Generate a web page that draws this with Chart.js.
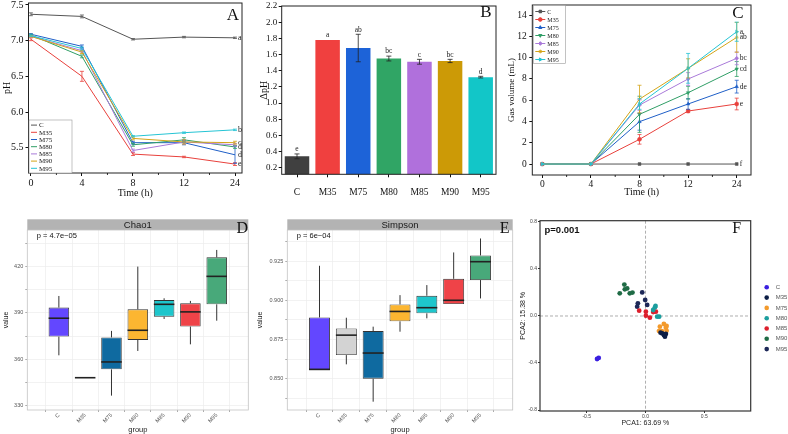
<!DOCTYPE html>
<html>
<head>
<meta charset="utf-8">
<script src="https://cdn.jsdelivr.net/npm/chart.js"></script>
<style>
  body { margin: 0; background: #fff; }
  #wrap { position: relative; width: 788px; height: 434px; overflow: hidden; background: #fff; }
  #wrap canvas { position: absolute; }
</style>
</head>
<body>
<div id="wrap">
  <canvas id="chartA" width="258" height="200" style="left:0px;top:0px"></canvas>
  <canvas id="chartB" width="258" height="200" style="left:258px;top:0px"></canvas>
  <canvas id="chartC" width="283" height="200" style="left:505px;top:0px"></canvas>
  <canvas id="chartD" width="262" height="224" style="left:0px;top:210px"></canvas>
  <canvas id="chartE" width="276" height="224" style="left:254px;top:210px"></canvas>
  <canvas id="chartF" width="273" height="224" style="left:515px;top:210px"></canvas>
</div>
<script>
// ---- data ----
const timeLabels = ['0', '4', '8', '12', '24'];
const groups = ['C', 'M35', 'M75', 'M80', 'M85', 'M90', 'M95'];
const lineColors = ['#555555', '#e8413c', '#1f5fc7', '#2f9e66', '#a97ad9', '#d4a418', '#25c4d4'];

// A: pH over time
const phC   = [7.37, 7.34, 7.02, 7.05, 7.04];
const phM35 = [7.02, 6.50, 5.41, 5.37, 5.27];
const phM75 = [7.09, 6.92, 5.57, 5.57, 5.40];
const phM80 = [7.08, 6.78, 5.54, 5.61, 5.51];
const phM85 = [7.06, 6.86, 5.46, 5.58, 5.54];
const phM90 = [7.06, 6.84, 5.63, 5.58, 5.57];
const phM95 = [7.07, 6.89, 5.66, 5.71, 5.75];
const phErrC   = [0.02, 0.02, 0.01, 0.01, 0.01];
const phErrM35 = [0.02, 0.07, 0.02, 0.01, 0.02];
const phErrM75 = [0.01, 0.02, 0.02, 0.03, 0.12];
const phErrM80 = [0.01, 0.02, 0.02, 0.03, 0.02];
const phErrM85 = [0.01, 0.02, 0.02, 0.03, 0.02];
const phErrM90 = [0.01, 0.02, 0.02, 0.03, 0.02];
const phErrM95 = [0.01, 0.02, 0.01, 0.01, 0.01];
const phLetters = ['a', 'e', 'd', 'd', '', 'c', 'b'];
const phTicks = [5.5, 6.0, 6.5, 7.0, 7.5];

// B: delta pH
const dphValues = [0.34, 1.78, 1.68, 1.55, 1.51, 1.52, 1.32];
const dphErr    = [0.03, 0.0, 0.17, 0.03, 0.03, 0.02, 0.01];
const dphLetters = ['e', 'a', 'ab', 'bc', 'c', 'bc', 'd'];
const barColors = ['#404040', '#f0403f', '#1d63d8', '#30a565', '#b070dc', '#cc9a06', '#12c6c8'];
const dphTicks = [0.2, 0.4, 0.6, 0.8, 1.0, 1.2, 1.4, 1.6, 1.8, 2.0, 2.2];

// C: gas volume
const gasC   = [0, 0, 0, 0, 0];
const gasM35 = [0, 0, 2.32, 4.98, 5.64];
const gasM75 = [0, 0, 3.98, 5.64, 7.27];
const gasM80 = [0, 0, 4.67, 6.70, 8.93];
const gasM85 = [0, 0, 5.54, 7.99, 9.93];
const gasM90 = [0, 0, 6.10, 8.99, 11.90];
const gasM95 = [0, 0, 5.64, 8.99, 12.43];
const gasErrC   = [0, 0, 0, 0, 0];
const gasErrM35 = [0, 0, 0.45, 0.15, 0.55];
const gasErrM75 = [0, 0, 0.8, 0.5, 0.6];
const gasErrM80 = [0, 0, 1.7, 0.6, 0.7];
const gasErrM85 = [0, 0, 0.5, 0.6, 0.6];
const gasErrM90 = [0, 0, 1.3, 0.9, 1.4];
const gasErrM95 = [0, 0, 0.5, 1.4, 0.9];
const gasLetters = ['f', 'e', 'de', 'cd', 'bc', 'ab', 'a'];
const gasTicks = [0, 2, 4, 6, 8, 10, 12, 14];
const gasStyles = ['rect', 'circle', 'triangle', 'triangle', 'rectRot', 'star', 'triangle'];
const gasRotations = [0, 0, 0, 180, 0, 0, 90];

// D: Chao1 boxplot
const boxColors = ['#6347ff', '#d3d3d3', '#0f6aa0', '#fcb631', '#1ec6cc', '#ef4348', '#48a97a'];
const chao1Min = [362.6, 348.1, 336.5, 365.4, 386.1, 369.7, 385.0];
const chao1Q1  = [374.7, 348.1, 353.5, 372.5, 387.6, 381.2, 395.6];
const chao1Med = [386.6, 348.1, 358.3, 378.8, 395.6, 390.7, 413.7];
const chao1Q3  = [393.5, 348.1, 374.2, 392.4, 398.4, 396.3, 426.0];
const chao1Max = [401.0, 348.1, 378.4, 420.0, 399.5, 397.8, 430.8];
const chao1Ticks = [330, 360, 390, 420];

// E: Simpson boxplot
const simpMin = [0.8555, 0.8592, 0.8354, 0.8800, 0.8885, 0.8976, 0.9012];
const simpQ1  = [0.8555, 0.8651, 0.8500, 0.8866, 0.8917, 0.8976, 0.9129];
const simpMed = [0.8560, 0.8778, 0.8664, 0.8929, 0.8953, 0.9000, 0.9246];
const simpQ3  = [0.8891, 0.8821, 0.8804, 0.8974, 0.9029, 0.9137, 0.9286];
const simpMax = [0.9220, 0.8889, 0.8832, 0.9033, 0.9097, 0.9305, 0.9394];
const simpTicks = [0.850, 0.875, 0.900, 0.925];

// F: PCA scores
const pcaColors = ['#3a1fe0', '#0c1d45', '#f39a2c', '#1c9e9e', '#dc1f2c', '#1f6b45', '#1d2858'];
const pcaC   = [[-0.412, -0.366], [-0.398, -0.357]];
const pcaM35 = [[0.156, -0.162], [0.142, -0.148], [0.173, -0.153], [0.128, -0.142], [0.165, -0.176]];
const pcaM75 = [[0.122, -0.091], [0.156, -0.068], [0.173, -0.099], [0.179, -0.085], [0.114, -0.128], [0.139, -0.128], [0.179, -0.125]];
const pcaM80 = [[0.080, 0.074], [0.065, 0.051], [0.099, -0.006], [0.116, -0.006], [0.085, 0.085]];
const pcaM85 = [[-0.054, 0.045], [0.003, 0.037], [0.037, -0.014], [0.065, 0.034], [0.088, 0.037], [0.003, 0.003]];
const pcaM90 = [[-0.180, 0.267], [-0.219, 0.193], [-0.176, 0.227], [-0.156, 0.235], [-0.134, 0.193], [-0.111, 0.199]];
const pcaM95 = [[-0.028, 0.201], [-0.003, 0.136], [-0.065, 0.108], [-0.071, 0.079], [0.014, 0.094]];
const pcaXTicks = [-0.5, 0.0, 0.5];
const pcaYTicks = [-0.8, -0.4, 0.0, 0.4, 0.8];

const serif = "'Liberation Serif', 'Times New Roman', serif";
const sans = "'Liberation Sans', Arial, sans-serif";

// ---- helpers ----
function fixV(w) {
  return s => { s.width = w; s.paddingTop = 0; s.paddingBottom = 0; };
}
function fixH(h) {
  return s => { s.height = h; s.paddingLeft = 0; s.paddingRight = 0; };
}
function setTicks(values) {
  return s => { s.ticks = values.map(v => ({ value: v })); };
}
function withMinors(values) {
  const out = [];
  for (let i = 0; i < values.length; i++) {
    if (i > 0) out.push((values[i - 1] + values[i]) / 2);
    out.push(values[i]);
  }
  const step = values[1] - values[0];
  out.unshift(values[0] - step / 2);
  out.push(values[values.length - 1] + step / 2);
  return out;
}
function xy(arr) { return arr.map((v, i) => ({ x: i, y: v })); }
function valOf(d) { return typeof d === 'object' ? d.y : d; }

function mark(ctx, style, rot, r, x, y, color) {
  ctx.save();
  ctx.fillStyle = color; ctx.strokeStyle = color;
  if (Chart.helpers && Chart.helpers.drawPoint) {
    Chart.helpers.drawPoint(ctx, { pointStyle: style, radius: r, rotation: rot, borderWidth: 1 }, x, y);
    ctx.fill();
  } else {
    ctx.beginPath(); ctx.arc(x, y, r, 0, Math.PI * 2); ctx.fill();
  }
  ctx.restore();
}

const extras = {
  id: 'extras',
  beforeDraw(chart, args, o) {
    const ctx = chart.ctx, ca = chart.chartArea;
    if (o.strip) {
      ctx.save();
      ctx.fillStyle = '#b3b3b3';
      ctx.fillRect(ca.left, ca.top - o.strip.height, ca.right - ca.left, o.strip.height);
      ctx.fillStyle = '#1a1a1a';
      ctx.font = o.strip.font;
      ctx.textAlign = 'center'; ctx.textBaseline = 'middle';
      ctx.fillText(o.strip.text, (ca.left + ca.right) / 2, ca.top - o.strip.height / 2 + 0.5);
      ctx.restore();
    }
  },
  beforeDatasetsDraw(chart, args, o) {
    const ctx = chart.ctx, ca = chart.chartArea;
    if (o.refLines) {
      const xs = chart.scales.x, ys = chart.scales.y;
      ctx.save();
      ctx.strokeStyle = '#999'; ctx.lineWidth = 0.8; ctx.setLineDash([3, 2]);
      const px = xs.getPixelForValue(0), py = ys.getPixelForValue(0);
      ctx.beginPath();
      ctx.moveTo(px, ca.top); ctx.lineTo(px, ca.bottom);
      ctx.moveTo(ca.left, py); ctx.lineTo(ca.right, py);
      ctx.stroke();
      ctx.restore();
    }
    chart.data.datasets.forEach((ds, i) => {
      if (!ds.whiskerLow) return;
      const meta = chart.getDatasetMeta(i), ys = chart.scales.y;
      ctx.save();
      ctx.strokeStyle = '#333'; ctx.lineWidth = 1;
      meta.data.forEach((el, j) => {
        const [q1, q3] = ds.data[j].y;
        ctx.beginPath();
        ctx.moveTo(el.x, ys.getPixelForValue(ds.whiskerHigh[j]));
        ctx.lineTo(el.x, ys.getPixelForValue(q3));
        ctx.moveTo(el.x, ys.getPixelForValue(q1));
        ctx.lineTo(el.x, ys.getPixelForValue(ds.whiskerLow[j]));
        ctx.stroke();
      });
      ctx.restore();
    });
  },
  afterDatasetsDraw(chart, args, o) {
    const ctx = chart.ctx;
    chart.data.datasets.forEach((ds, i) => {
      const meta = chart.getDatasetMeta(i);
      const ys = chart.scales[meta.yAxisID];
      if (ds.medians) {
        ctx.save();
        ctx.strokeStyle = '#222'; ctx.lineWidth = 1.6;
        meta.data.forEach((el, j) => {
          const y = ys.getPixelForValue(ds.medians[j]);
          ctx.beginPath();
          ctx.moveTo(el.x - el.width / 2, y); ctx.lineTo(el.x + el.width / 2, y);
          ctx.stroke();
        });
        ctx.restore();
      }
      if (ds.errors) {
        ctx.save();
        ctx.strokeStyle = ds.errorColor || ds.borderColor;
        ctx.lineWidth = 0.8;
        const cap = o.cap || 2.5;
        meta.data.forEach((el, j) => {
          const e = ds.errors[j];
          if (!e) return;
          const v = valOf(ds.data[j]);
          const t = ys.getPixelForValue(v + e), b = ys.getPixelForValue(v - e);
          ctx.beginPath();
          ctx.moveTo(el.x, t); ctx.lineTo(el.x, b);
          ctx.moveTo(el.x - cap, t); ctx.lineTo(el.x + cap, t);
          ctx.moveTo(el.x - cap, b); ctx.lineTo(el.x + cap, b);
          ctx.stroke();
        });
        ctx.restore();
      }
    });
  },
  afterDraw(chart, args, o) {
    const ctx = chart.ctx, ca = chart.chartArea;
    // letters
    chart.data.datasets.forEach((ds, i) => {
      const meta = chart.getDatasetMeta(i);
      const ys = chart.scales[meta.yAxisID];
      ctx.save();
      ctx.fillStyle = '#222';
      ctx.font = o.letterFont || ('8px ' + serif);
      if (ds.endLetter) {
        const el = meta.data[meta.data.length - 1];
        ctx.textAlign = 'left'; ctx.textBaseline = 'middle';
        ctx.fillText(ds.endLetter, el.x + 3, el.y);
      }
      if (ds.barLetters) {
        ctx.textAlign = 'center'; ctx.textBaseline = 'bottom';
        meta.data.forEach((el, j) => {
          const top = ys.getPixelForValue(valOf(ds.data[j]) + (ds.errors ? ds.errors[j] : 0));
          ctx.fillText(ds.barLetters[j], el.x, top - 1);
        });
      }
      ctx.restore();
    });
    // frame
    if (o.frame) {
      ctx.save();
      ctx.strokeStyle = o.frame.color; ctx.lineWidth = o.frame.width;
      ctx.strokeRect(ca.left, ca.top, ca.right - ca.left, ca.bottom - ca.top);
      ctx.restore();
    }
    // minor ticks on x
    if (o.minorX) {
      const xs = chart.scales.x;
      ctx.save();
      ctx.strokeStyle = '#000'; ctx.lineWidth = 0.8;
      o.minorX.forEach(v => {
        const x = xs.getPixelForValue(v);
        ctx.beginPath(); ctx.moveTo(x, ca.bottom); ctx.lineTo(x, ca.bottom + 2); ctx.stroke();
      });
      ctx.restore();
    }
    // legends
    const lg = o.legend;
    if (lg) {
      ctx.save();
      ctx.font = lg.font;
      ctx.textBaseline = 'middle'; ctx.textAlign = 'left';
      if (lg.kind === 'box') {
        const x0 = ca.left + lg.dx;
        const y0 = lg.fromBottom ? ca.bottom - lg.h : ca.top + lg.dy;
        ctx.fillStyle = '#fff';
        ctx.fillRect(x0, y0, lg.w, lg.h);
        ctx.strokeStyle = '#999'; ctx.lineWidth = 0.6;
        ctx.strokeRect(x0, y0, lg.w, lg.h);
        chart.data.datasets.forEach((ds, i) => {
          const y = y0 + lg.pad + (i + 0.5) * lg.row;
          ctx.strokeStyle = ds.borderColor; ctx.lineWidth = 1;
          ctx.beginPath(); ctx.moveTo(x0 + 2, y); ctx.lineTo(x0 + 2 + lg.line, y); ctx.stroke();
          if (lg.markers) mark(ctx, ds.pointStyle, ds.pointRotation || 0, 1.8, x0 + 2 + lg.line / 2, y, ds.borderColor);
          ctx.fillStyle = '#222';
          ctx.fillText(ds.label, x0 + 4 + lg.line, y + 0.5);
        });
      } else {
        chart.data.datasets.forEach((ds, i) => {
          const y = ca.top + lg.dy + i * lg.row;
          ctx.fillStyle = ds.backgroundColor;
          ctx.beginPath(); ctx.arc(ca.right + lg.dx, y, 2.3, 0, Math.PI * 2); ctx.fill();
          ctx.fillStyle = '#555';
          ctx.fillText(ds.label, ca.right + lg.tx, y);
        });
      }
      ctx.restore();
    }
    // notes and panel letter
    ctx.save();
    (o.notes || []).forEach(n => {
      ctx.font = n.font; ctx.fillStyle = n.color || '#111';
      ctx.textAlign = n.align || 'left'; ctx.textBaseline = 'middle';
      const x = n.fromRight ? ca.right + n.dx : ca.left + n.dx;
      ctx.fillText(n.text, x, ca.top + n.dy);
    });
    ctx.restore();
  }
};
Chart.register(extras);

function baseOptions() {
  return {
    responsive: false, animation: false, devicePixelRatio: 1,
    plugins: { legend: { display: false }, tooltip: { enabled: false } }
  };
}

// ---- A: pH ----
const phSeries = [phC, phM35, phM75, phM80, phM85, phM90, phM95];
const phErrs = [phErrC, phErrM35, phErrM75, phErrM80, phErrM85, phErrM90, phErrM95];
new Chart(document.getElementById('chartA'), {
  type: 'line',
  data: {
    datasets: groups.map((g, i) => ({
      label: g, data: xy(phSeries[i]), errors: phErrs[i], endLetter: phLetters[i],
      borderColor: lineColors[i], borderWidth: 1, pointRadius: 0, order: 7 - i
    }))
  },
  options: Object.assign(baseOptions(), {
    layout: { padding: { top: 3, right: 16, left: 0, bottom: 0 } },
    scales: {
      x: {
        type: 'linear', min: -0.047, max: 4.137,
        afterFit: fixH(27), afterBuildTicks: setTicks([0, 1, 2, 3, 4]),
        ticks: { callback: v => timeLabels[v], font: { family: serif, size: 10 }, color: '#111', padding: 1 },
        grid: { drawOnChartArea: false, tickLength: 3, tickColor: '#111' }, border: { display: false },
        title: { display: true, text: 'Time (h)', font: { family: serif, size: 10 }, color: '#111', padding: { bottom: 1, top: 0 } }
      },
      y: {
        min: 5.145, max: 7.528,
        afterFit: fixV(28.5), afterBuildTicks: setTicks(phTicks),
        ticks: { callback: v => v.toFixed(1), font: { family: serif, size: 10 }, color: '#111', padding: 2 },
        grid: { drawOnChartArea: false, tickLength: 3, tickColor: '#111' }, border: { display: false },
        title: { display: true, text: 'pH', font: { family: serif, size: 10 }, color: '#111', padding: { top: 1, bottom: 0 } }
      }
    }
  }),
  plugins: []
});
Chart.getChart('chartA').options.plugins.extras = {
  frame: { color: '#222', width: 1 }, minorX: [0.5, 1.5, 2.5, 3.5], cap: 2,
  legend: { kind: 'box', dx: 0.5, fromBottom: true, w: 43, h: 53, pad: 1.5, row: 7.2, line: 6, font: '7px ' + serif },
  notes: [{ text: 'A', font: '17px ' + serif, fromRight: true, dx: -9, dy: 13, align: 'center' }]
};
Chart.getChart('chartA').update();

// ---- B: delta pH ----
new Chart(document.getElementById('chartB'), {
  type: 'bar',
  data: {
    labels: groups,
    datasets: [{
      label: 'ΔpH', data: dphValues, errors: dphErr, barLetters: dphLetters, errorColor: '#222',
      backgroundColor: barColors, borderWidth: 0, barPercentage: 0.8, categoryPercentage: 1
    }]
  },
  options: Object.assign(baseOptions(), {
    layout: { padding: { top: 6, right: 20, left: 0, bottom: 0 } },
    plugins: {
      legend: { display: false }, tooltip: { enabled: false },
      extras: {
        frame: { color: '#222', width: 1 }, cap: 2.5, letterFont: '7.5px ' + serif,
        notes: [{ text: 'B', font: '17px ' + serif, fromRight: true, dx: -10, dy: 7, align: 'center' }]
      }
    },
    scales: {
      x: {
        afterFit: fixH(25.7),
        ticks: { font: { family: serif, size: 9.5 }, color: '#111', padding: 9 },
        grid: { drawOnChartArea: false, tickLength: 3, tickColor: '#111', offset: false }, border: { display: false }
      },
      y: {
        min: 0.118, max: 2.2,
        afterFit: fixV(23.7), afterBuildTicks: setTicks(dphTicks),
        ticks: { callback: v => v.toFixed(1), font: { family: serif, size: 9 }, color: '#111', padding: 1.5 },
        grid: { drawOnChartArea: false, tickLength: 3, tickColor: '#111' }, border: { display: false },
        title: { display: true, text: 'ΔpH', font: { family: serif, size: 10 }, color: '#111', padding: { top: 0, bottom: 0 } }
      }
    }
  })
});

// ---- C: gas volume ----
const gasSeries = [gasC, gasM35, gasM75, gasM80, gasM85, gasM90, gasM95];
const gasErrs = [gasErrC, gasErrM35, gasErrM75, gasErrM80, gasErrM85, gasErrM90, gasErrM95];
new Chart(document.getElementById('chartC'), {
  type: 'line',
  data: {
    datasets: groups.map((g, i) => ({
      label: g, data: xy(gasSeries[i]), errors: gasErrs[i], endLetter: gasLetters[i],
      borderColor: lineColors[i], backgroundColor: lineColors[i], borderWidth: 1,
      pointStyle: gasStyles[i], pointRotation: gasRotations[i], pointRadius: 2, pointBorderWidth: 0.5,
      order: 7 - i
    }))
  },
  options: Object.assign(baseOptions(), {
    layout: { padding: { top: 5, right: 37, left: 0, bottom: 0 } },
    plugins: {
      legend: { display: false }, tooltip: { enabled: false },
      extras: {
        frame: { color: '#222', width: 1 }, minorX: [0.5, 1.5, 2.5, 3.5], cap: 2, letterFont: '7.5px ' + serif,
        legend: { kind: 'box', dx: 1, dy: 0.5, w: 32, h: 58, pad: 2, row: 8, line: 10, markers: true, font: '6px ' + serif },
        notes: [{ text: 'C', font: '17px ' + serif, fromRight: true, dx: -13, dy: 8.5, align: 'center' }]
      }
    },
    scales: {
      x: {
        type: 'linear', min: -0.206, max: 4.294,
        afterFit: fixH(25), afterBuildTicks: setTicks([0, 1, 2, 3, 4]),
        ticks: { callback: v => timeLabels[v], font: { family: serif, size: 9.5 }, color: '#111', padding: 1 },
        grid: { drawOnChartArea: false, tickLength: 3, tickColor: '#111' }, border: { display: false },
        title: { display: true, text: 'Time (h)', font: { family: serif, size: 10 }, color: '#111', padding: { bottom: 2, top: 0 } }
      },
      y: {
        min: -1.03, max: 14.94,
        afterFit: fixV(27.3), afterBuildTicks: setTicks(gasTicks),
        ticks: { font: { family: serif, size: 9.5 }, color: '#111', padding: 2.5 },
        grid: { drawOnChartArea: false, tickLength: 3, tickColor: '#111' }, border: { display: false },
        title: { display: true, text: 'Gas volume (mL)', font: { family: serif, size: 9 }, color: '#111', padding: { top: 1, bottom: 0 } }
      }
    }
  })
});

// ---- D & E: boxplots ----
function boxChart(id, label, mins, q1s, meds, q3s, maxs, yMin, yMax, majors, fmt, yw, padR, note, letterDx, stripText) {
  const ticksAll = withMinors(majors).filter(v => v >= yMin && v <= yMax);
  return new Chart(document.getElementById(id), {
    type: 'bar',
    data: {
      datasets: [{
        label: label,
        data: q1s.map((q1, i) => ({ x: i, y: [q1, q3s[i]] })),
        medians: meds, whiskerLow: mins, whiskerHigh: maxs,
        backgroundColor: boxColors, borderColor: '#333', borderWidth: 0.9, borderSkipped: false,
        barPercentage: 0.78, categoryPercentage: 1
      }]
    },
    options: Object.assign(baseOptions(), {
      layout: { padding: { top: 20, right: padR, left: 0, bottom: 0 } },
      plugins: {
        legend: { display: false }, tooltip: { enabled: false },
        extras: {
          strip: { text: stripText, height: 10.7, font: '9.5px ' + sans },
          frame: { color: '#c4c4c4', width: 0.8 },
          notes: [
            { text: note, font: '7.5px ' + sans, dx: 9.5, dy: 5.5 },
            { text: id === 'chartD' ? 'D' : 'E', font: '16px ' + serif, fromRight: true, dx: letterDx, dy: -1, align: 'center' }
          ]
        }
      },
      scales: {
        x: {
          type: 'linear', min: -0.6, max: 6.6,
          afterFit: fixH(24), afterBuildTicks: setTicks([0, 1, 2, 3, 4, 5, 6]),
          ticks: { callback: v => groups[v], font: { family: sans, size: 5.5 }, color: '#555', padding: 0, minRotation: 45, maxRotation: 45, autoSkip: false },
          grid: { color: '#ececec', lineWidth: 0.7, tickLength: 2, tickColor: '#888' }, border: { display: false },
          title: { display: true, text: 'group', font: { family: sans, size: 7.5 }, color: '#222', padding: { bottom: 0, top: 0 } }
        },
        y: {
          min: yMin, max: yMax,
          afterFit: fixV(yw), afterBuildTicks: setTicks(ticksAll),
          ticks: { callback: v => majors.some(m => Math.abs(m - v) < 1e-9) ? fmt(v) : '', font: { family: sans, size: 5.5 }, color: '#555', padding: 2 },
          grid: { color: '#ececec', lineWidth: 0.7, tickLength: 2, tickColor: '#888' }, border: { display: false },
          title: { display: true, text: 'value', font: { family: sans, size: 7 }, color: '#222', padding: { top: 2, bottom: 0 } }
        }
      }
    })
  });
}
boxChart('chartD', 'Chao1', chao1Min, chao1Q1, chao1Med, chao1Q3, chao1Max, 327.2, 443.7, chao1Ticks, v => String(v), 27.3, 13.7, 'p = 4.7e\u221205', -6, 'Chao1');
boxChart('chartE', 'Simpson', simpMin, simpQ1, simpMed, simpQ3, simpMax, 0.8301, 0.9448, simpTicks, v => v.toFixed(3), 33.3, 17.3, 'p = 6e\u221204', -8, 'Simpson');

// ---- F: PCA ----
const pcaSets = [pcaC, pcaM35, pcaM75, pcaM80, pcaM85, pcaM90, pcaM95];
new Chart(document.getElementById('chartF'), {
  type: 'scatter',
  data: {
    datasets: groups.map((g, i) => ({
      label: g, data: pcaSets[i].map(p => ({ x: p[0], y: p[1] })),
      backgroundColor: pcaColors[i], borderWidth: 0, pointRadius: 2.4
    }))
  },
  options: Object.assign(baseOptions(), {
    layout: { padding: { top: 10.7, right: 37.3, left: 0, bottom: 0 } },
    plugins: {
      legend: { display: false }, tooltip: { enabled: false },
      extras: {
        refLines: true,
        frame: { color: '#333', width: 1.2 },
        legend: { kind: 'dots', dx: 16, tx: 25, dy: 66.6, row: 10.3, font: '6px ' + sans },
        notes: [
          { text: 'p=0.001', font: 'bold 9.5px ' + sans, dx: 4.5, dy: 9.5 },
          { text: 'F', font: '16px ' + serif, fromRight: true, dx: -14, dy: 8, align: 'center' }
        ]
      }
    },
    scales: {
      x: {
        type: 'linear', min: -0.897, max: 0.894,
        afterFit: fixH(23), afterBuildTicks: setTicks(pcaXTicks),
        ticks: { callback: v => v.toFixed(1), font: { family: sans, size: 5 }, color: '#444', padding: 1 },
        grid: { drawOnChartArea: false, tickLength: 2, tickColor: '#333' }, border: { display: false },
        title: { display: true, text: 'PCA1: 63.69 %', font: { family: sans, size: 7 }, color: '#222', padding: { bottom: 6.5, top: 0 } }
      },
      y: {
        min: -0.8085, max: 0.811,
        afterFit: fixV(25), afterBuildTicks: setTicks(pcaYTicks),
        ticks: { callback: v => v.toFixed(1), font: { family: sans, size: 5 }, color: '#444', padding: 1 },
        grid: { drawOnChartArea: false, tickLength: 2, tickColor: '#333' }, border: { display: false },
        title: { display: true, text: 'PCA2: 15.38 %', font: { family: sans, size: 7 }, color: '#222', padding: { top: 4, bottom: 0 } }
      }
    }
  })
});
</script>
</body>
</html>
